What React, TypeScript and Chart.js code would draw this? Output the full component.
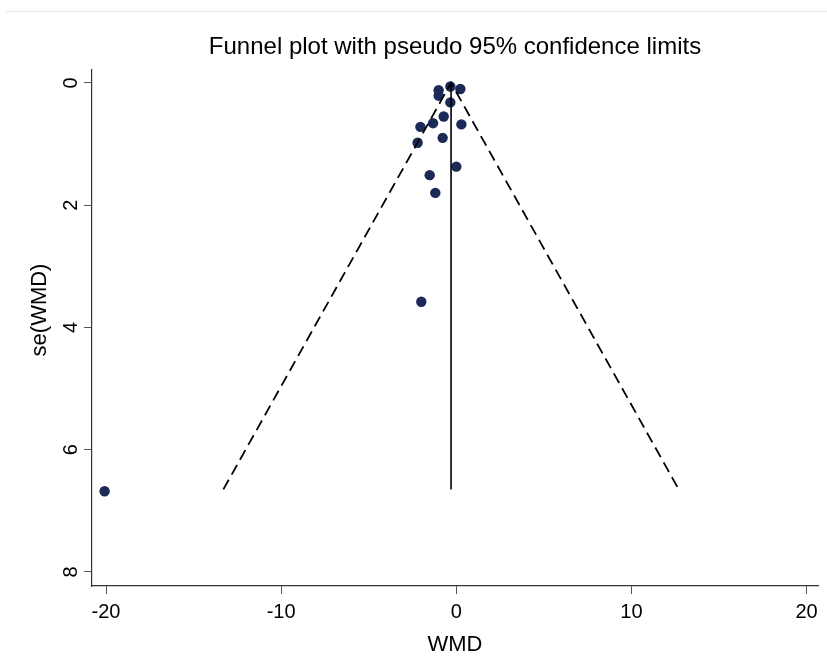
import React, { useEffect, useRef } from "react";
import { Chart, registerables } from "chart.js";

Chart.register(...registerables);

// Study estimates (weighted mean difference) and their standard errors
const wmd = [-1.01, -1.01, -0.34, 0.23, -0.34, -0.72, -1.33, -2.05, 0.29, -0.78, -2.21, 0.0, -1.52, -1.2, -2.0, -20.08];
const seWmd = [0.12, 0.21, 0.06, 0.1, 0.32, 0.55, 0.66, 0.72, 0.68, 0.9, 0.98, 1.37, 1.51, 1.8, 3.58, 6.68];

// Pseudo 95% confidence limit lines
const funnelX = [-13.3, -0.3, 12.7];
const funnelSe = [6.65, 0, 6.65];
const centerX = [-0.3, -0.3];
const centerSe = [0, 6.65];

const xTicks = [-20, -10, 0, 10, 20];
const yTicks = [0, 2, 4, 6, 8];

const titleText = "Funnel plot with pseudo 95% confidence limits";
const xTitle = "WMD";
const yTitle = "se(WMD)";

const FONT = "'Liberation Sans', Arial, sans-serif";

export default function App() {
  const ref = useRef<HTMLCanvasElement | null>(null);

  useEffect(() => {
    if (!ref.current) return;
    const decor = {
      id: "decor",
      beforeDraw(chart: any) {
        const ctx = chart.ctx;
        ctx.save();
        ctx.fillStyle = "#ffffff";
        ctx.fillRect(0, 0, chart.width, chart.height);
        ctx.strokeStyle = "#e2eaea";
        ctx.lineWidth = 1;
        ctx.beginPath();
        ctx.moveTo(6, 11.5);
        ctx.lineTo(chart.width, 11.5);
        ctx.stroke();
        ctx.restore();
      },
      afterDraw(chart: any) {
        const ctx = chart.ctx;
        const a = chart.chartArea;
        ctx.save();
        ctx.fillStyle = "#000000";
        ctx.font = `24px ${FONT}`;
        ctx.textAlign = "center";
        ctx.textBaseline = "middle";
        ctx.fillText(titleText, (a.left + a.right) / 2, 47);
        // y-axis title, placed as in the reference (slightly above centre)
        ctx.font = `22px ${FONT}`;
        ctx.translate(40, 310);
        ctx.rotate(-Math.PI / 2);
        ctx.fillText(yTitle, 0, 0);
        ctx.restore();
      },
    };
    const chart = new Chart(ref.current, {
      type: "scatter",
      data: {
        datasets: [
          {
            type: "line",
            data: centerX.map((x, i) => ({ x, y: centerSe[i] })),
            borderColor: "#000000",
            borderWidth: 1.6,
            pointRadius: 0,
            fill: false,
            tension: 0,
          } as any,
          {
            type: "line",
            data: funnelX.map((x, i) => ({ x, y: funnelSe[i] })),
            borderColor: "#000000",
            borderWidth: 1.8,
            borderDash: [11, 6],
            pointRadius: 0,
            fill: false,
            tension: 0,
          } as any,
          {
            data: wmd.map((x, i) => ({ x, y: seWmd[i] })),
            backgroundColor: "#1b2a56",
            borderColor: "#1b2a56",
            pointRadius: 5.2,
            borderWidth: 0,
          },
        ],
      },
      options: {
        animation: false,
        responsive: false,
        maintainAspectRatio: false,
        layout: { padding: { left: 20, right: 9, top: 70, bottom: 0 } },
        plugins: {
          legend: { display: false },
          tooltip: { enabled: false },
          title: { display: false },
        },
        scales: {
          x: {
            type: "linear",
            min: -20.8,
            max: 20.65,
            afterBuildTicks: (s: any) => {
              s.ticks = xTicks.map((v) => ({ value: v }));
            },
            afterFit: (s: any) => {
              s.height = 84;
            },
            grid: {
              display: true,
              drawOnChartArea: false,
              drawTicks: true,
              tickLength: 8,
              color: "#555555",
              lineWidth: 1,
            },
            border: { display: true, color: "#333333", width: 1.2 },
            ticks: {
              color: "#000000",
              padding: 6,
              maxRotation: 0,
              font: { family: FONT, size: 20 },
            },
            title: {
              display: true,
              text: xTitle,
              color: "#000000",
              font: { family: FONT, size: 22 },
              padding: { top: 8, bottom: 12 },
            },
          },
          y: {
            type: "linear",
            reverse: true,
            min: -0.21,
            max: 8.23,
            afterBuildTicks: (s: any) => {
              s.ticks = yTicks.map((v) => ({ value: v }));
            },
            afterFit: (s: any) => {
              s.width = 72;
            },
            grid: {
              display: true,
              drawOnChartArea: false,
              drawTicks: true,
              tickLength: 8,
              color: "#555555",
              lineWidth: 1,
            },
            border: { display: true, color: "#333333", width: 1.2 },
            ticks: {
              color: "#000000",
              padding: 7,
              minRotation: 90,
              maxRotation: 90,
              crossAlign: "center",
              font: { family: FONT, size: 20 },
            },
            title: { display: false },
          },
        },
      },
      plugins: [decor],
    } as any);
    return () => chart.destroy();
  }, []);

  return (
    <div style={{ position: "absolute", left: 0, top: 0, width: 827, height: 670, background: "#ffffff" }}>
      <canvas ref={ref} width={827} height={670} style={{ width: 827, height: 670, display: "block" }} />
    </div>
  );
}
